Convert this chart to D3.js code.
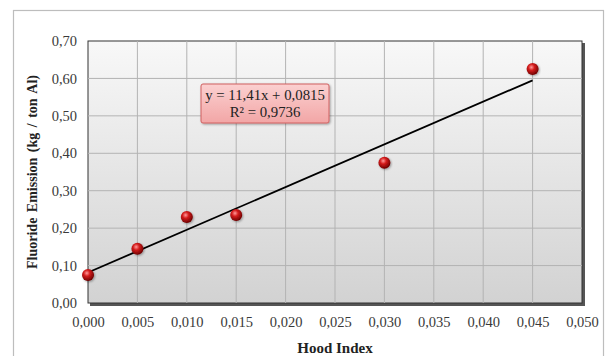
<!DOCTYPE html>
<html><head><meta charset="utf-8">
<script src="https://cdn.jsdelivr.net/npm/d3@7"></script>
<style>body{margin:0;background:#fff}svg{display:block}</style>
</head><body>
<script>
const hoodIndex = [0.000, 0.005, 0.010, 0.015, 0.030, 0.045];
const emission  = [0.075, 0.145, 0.230, 0.235, 0.375, 0.625];
const xTicks = [0,0.005,0.010,0.015,0.020,0.025,0.030,0.035,0.040,0.045,0.050];
const yTicks = [0,0.1,0.2,0.3,0.4,0.5,0.6,0.7];
const slope = 11.41, intercept = 0.0815;
const eqText = "y = 11,41x + 0,0815";
const r2Text = "R² = 0,9736";

const W=607,H=356;
const svg=d3.select("body").append("svg").attr("width",W).attr("height",H);
const defs=svg.append("defs");
const bg=defs.append("linearGradient").attr("id","bg").attr("x1",0).attr("y1",0).attr("x2",0).attr("y2",1);
bg.append("stop").attr("offset","0%").attr("stop-color","#f8f8f8");
bg.append("stop").attr("offset","100%").attr("stop-color","#d2d2d2");
const ball=defs.append("radialGradient").attr("id","ball").attr("cx","40%").attr("cy","35%").attr("r","65%");
ball.append("stop").attr("offset","0%").attr("stop-color","#ff9a9a");
ball.append("stop").attr("offset","40%").attr("stop-color","#d41c1c");
ball.append("stop").attr("offset","100%").attr("stop-color","#6e0000");
const pink=defs.append("linearGradient").attr("id","pink").attr("x1",0).attr("y1",0).attr("x2",0).attr("y2",1);
pink.append("stop").attr("offset","0%").attr("stop-color","#fbd0d0");
pink.append("stop").attr("offset","100%").attr("stop-color","#f2a6a6");
const sh=defs.append("filter").attr("id","sh").attr("x","-20%").attr("y","-20%").attr("width","140%").attr("height","140%");
sh.append("feDropShadow").attr("dx",1).attr("dy",1).attr("stdDeviation",1).attr("flood-color","#000").attr("flood-opacity",0.35);

// outer frame
svg.append("rect").attr("x",13.5).attr("y",10.5).attr("width",590).attr("height",360)
  .attr("fill","#fff").attr("stroke","#bdbdbd").attr("stroke-width",1.2);

const L=88,R=582,T=41,B=303;
const x=d3.scaleLinear().domain([0,0.05]).range([L,R]);
const y=d3.scaleLinear().domain([0,0.7]).range([B,T]);

// shadow of plot
svg.append("rect").attr("x",L+2).attr("y",T+2).attr("width",R-L+1).attr("height",B-T+1).attr("fill","#555");
svg.append("rect").attr("x",L).attr("y",T).attr("width",R-L).attr("height",B-T).attr("fill","url(#bg)")
  .attr("stroke","#333").attr("stroke-width",1);

const grid=svg.append("g").attr("stroke","#b3b3b3").attr("stroke-width",1);
grid.selectAll(".gx").data(xTicks.slice(1,-1)).join("line")
  .attr("x1",d=>x(d)).attr("x2",d=>x(d)).attr("y1",T).attr("y2",B);
grid.selectAll(".gy").data(yTicks.slice(1,-1)).join("line")
  .attr("y1",d=>y(d)).attr("y2",d=>y(d)).attr("x1",L).attr("x2",R);

const fmt=(d,n)=>d.toFixed(n).replace(".",",");
const xAxis=d3.axisBottom(x).tickValues(xTicks).tickSize(0).tickPadding(14).tickFormat(d=>fmt(d,3));
const gx=svg.append("g").attr("transform",`translate(0,${B})`).call(xAxis);
const yAxis=d3.axisLeft(y).tickValues(yTicks).tickSize(0).tickPadding(11).tickFormat(d=>fmt(d,2));
const gy=svg.append("g").attr("transform",`translate(${L},0)`).call(yAxis);
[gx,gy].forEach(g=>{g.select(".domain").remove();
  g.selectAll("text").attr("font-family","Liberation Serif").attr("font-size",14.5).attr("fill","#3a3a3a");});

// trendline
svg.append("line").attr("x1",x(0)).attr("y1",y(intercept)).attr("x2",x(0.045)).attr("y2",y(slope*0.045+intercept))
  .attr("stroke","#000").attr("stroke-width",1.8);

svg.selectAll(".pt").data(hoodIndex.map((h,i)=>[h,emission[i]])).join("circle")
  .attr("cx",d=>x(d[0])).attr("cy",d=>y(d[1])).attr("r",6).attr("fill","url(#ball)").attr("filter","url(#sh)");

// label box
svg.append("rect").attr("x",201).attr("y",84).attr("width",128).attr("height",39).attr("rx",2)
  .attr("fill","url(#pink)").attr("stroke","#d06060").attr("stroke-width",1).attr("filter","url(#sh)");
svg.append("text").attr("x",265).attr("y",100).attr("text-anchor","middle").attr("font-family","Liberation Serif")
  .attr("font-size",14.8).attr("fill","#222").text(eqText);
svg.append("text").attr("x",265).attr("y",117).attr("text-anchor","middle").attr("font-family","Liberation Serif")
  .attr("font-size",14.8).attr("fill","#222").text(r2Text);

svg.append("text").attr("x",(L+R)/2).attr("y",353).attr("text-anchor","middle").attr("font-family","Liberation Serif")
  .attr("font-weight","bold").attr("font-size",15).attr("fill","#222").text("Hood Index");
svg.append("text").attr("transform",`translate(37,${(T+B)/2}) rotate(-90)`).attr("text-anchor","middle")
  .attr("font-family","Liberation Serif").attr("font-weight","bold").attr("font-size",14).attr("fill","#222")
  .attr("word-spacing",2).text("Fluoride Emission (kg / ton Al)");
</script>
</body></html>
